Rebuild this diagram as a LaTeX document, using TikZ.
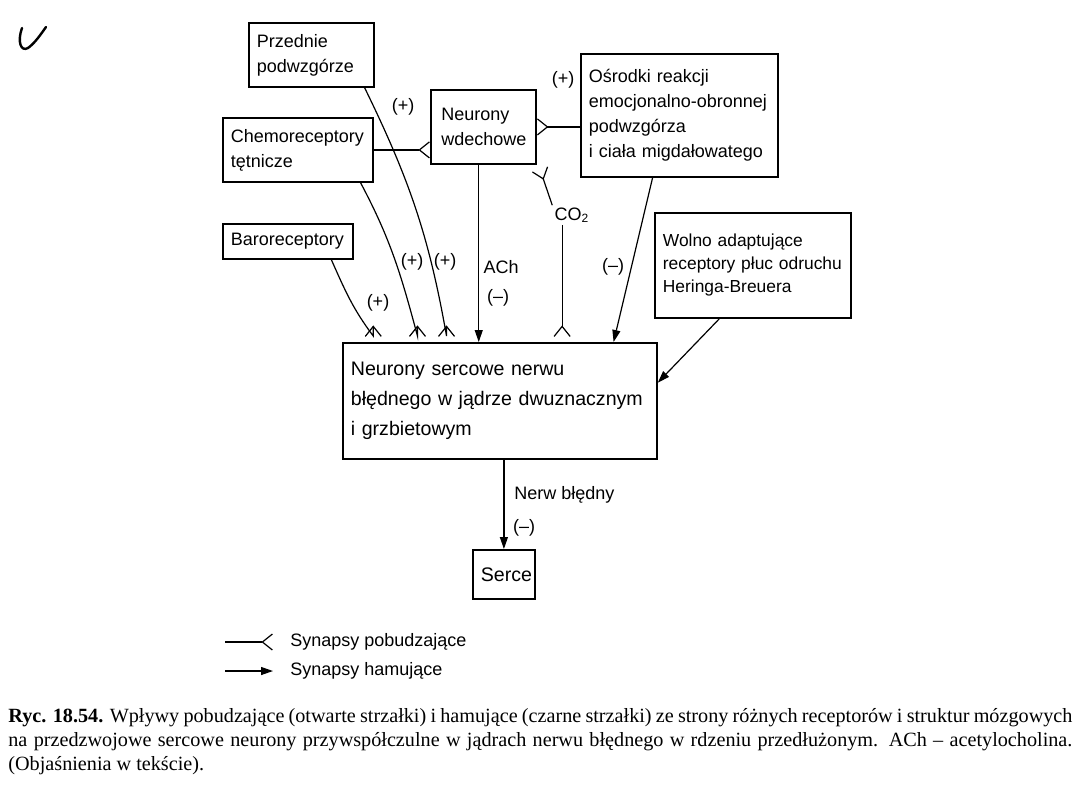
\documentclass[tikz,border=0pt]{standalone}
\usepackage{fontspec}
\setmainfont{Liberation Sans}
\newfontfamily\capfont{Liberation Serif}
\usetikzlibrary{
    calc,
    arrows.meta
}
\tikzset{
    box/.style={draw, line width=0.9pt, anchor=north west, align=left,
        inner xsep=4pt, inner ysep=1pt, font=\fontsize{9}{12.5}\selectfont},
    excit/.style={-{Straight Barb[reversed,length=5pt,width=8pt]}, line width=0.6pt},
    inhib/.style={-{Triangle[length=6pt,width=4pt]}, line width=0.6pt},
    lbl/.style={inner sep=1pt, font=\fontsize{9}{11}\selectfont}
}

\begin{document}
\begin{tikzpicture}[x=0.5pt,y=0.5pt]
\useasboundingbox (0,0) rectangle (1080,-810);

% pen mark
\draw[line width=1.2pt, line cap=round] (22,-28) .. controls (17,-42) and (21,-52) .. (28,-48)
    .. controls (35,-43) and (41,-34) .. (46,-27);

% boxes
\node[box, text width=54.5pt, minimum height=32pt] (przednie) at (248,-22) {Przednie\\podwzgórze};
\node[box, text width=67pt, minimum height=32pt] (chemo) at (222,-117) {Chemoreceptory\\tętnicze};
\node[box, text width=42pt, inner xsep=5.25pt, minimum height=37pt] (wdechowe) at (430,-89) {Neurony\\wdechowe};
\node[box, text width=90.5pt, minimum height=61.5pt] (osrodki) at (580,-53)
    {Ośrodki reakcji\\emocjonalno-obronnej\\podwzgórza\\i ciała migdałowatego};
\node[box, text width=57pt, minimum height=17.5pt] (baro) at (222,-223) {Baroreceptory};
\node[box, text width=90pt, minimum height=52.5pt, font=\fontsize{8.7}{11.5}\selectfont] (wolno) at (654,-212)
    {Wolno adaptujące\\receptory płuc odruchu\\Heringa-Breuera};
\node[box, text width=149pt, minimum height=58pt, font=\fontsize{9.8}{15}\selectfont] (sercowe) at (342,-342)
    {Neurony sercowe nerwu\\błędnego w jądrze dwuznacznym\\i grzbietowym};
\node[box, align=center, text width=23pt, minimum height=24.5pt, font=\fontsize{9.8}{12}\selectfont] (serce) at (472,-549) {Serce};

% points just above the big box
\coordinate (inBaro) at ($(sercowe.north west)!0.099!(sercowe.north east)+(0,5)$);
\coordinate (inChemo) at ($(sercowe.north west)!0.239!(sercowe.north east)+(0,5)$);
\coordinate (inPrzed) at ($(sercowe.north west)!0.331!(sercowe.north east)+(0,5)$);
\coordinate (inACh) at ($(sercowe.north west)!0.433!(sercowe.north east)$);
\coordinate (inCO) at ($(sercowe.north west)!0.697!(sercowe.north east)+(0,5)$);
\coordinate (inOsr) at ($(sercowe.north west)!0.86!(sercowe.north east)$);
\coordinate (inWolno) at ($(sercowe.north east)!0.345!(sercowe.south east)$);
\coordinate (inWdech) at ($(wdechowe.south east)+(3,-4)$);

\node[lbl] (co2) at (572,-215) {CO\textsubscript{2}};

% connectors (short straight end so the fork stands upright)
\draw[excit] ($(przednie.south west)!0.92!(przednie.south east)$) to[out=-64, in=100] ($(inPrzed)+(0,1)$) -- (inPrzed);
\draw[excit] ($(chemo.south west)!0.913!(chemo.south east)$) to[out=-62, in=105] ($(inChemo)+(0,1)$) -- (inChemo);
\draw[excit] ($(baro.south west)!0.83!(baro.south east)$) to[out=-66, in=127] ($(inBaro)+(0,1)$) -- (inBaro);
\draw[excit] (chemo.east) -- (chemo.east -| wdechowe.west);
\draw[excit] (wdechowe.east -| osrodki.west) -- (wdechowe.east);
\draw[excit] (co2.north west) -- (inWdech);
\draw[excit] (inCO |- co2.south) -- (inCO);
\draw[inhib] (inACh |- wdechowe.south) -- (inACh);
\draw[inhib] ($(osrodki.south west)!0.365!(osrodki.south east)$) -- (inOsr);
\draw[inhib] ($(wolno.south west)!0.33!(wolno.south east)$) -- (inWolno);
\draw[inhib] (serce.north |- sercowe.south) -- (serce.north);

% labels
\node[lbl] (pChemo) at (403,-107) {(+)};
\node[lbl] (pOsr) at (563,-80) {(+)};
\node[lbl] (pChemoS) at (412,-262) {(+)};
\node[lbl] (pPrzed) at (445,-262) {(+)};
\node[lbl] (pBaro) at (378,-303) {(+)};
\node[lbl] (ach) at (501,-267) {ACh};
\node[lbl] (mACh) at (498,-298) {(--)};
\node[lbl] (mOsr) at (613,-267) {(--)};
\node[lbl, anchor=west] (nerw) at (512,-495) {Nerw błędny};
\node[lbl] (mNerw) at (524,-528) {(--)};

% legend
\coordinate (legA) at (225,-642);
\coordinate (legB) at (273,-642);
\coordinate (legC) at (225,-671);
\coordinate (legD) at (273,-671);
\draw[excit] (legA) -- (legB);
\draw[inhib] (legC) -- (legD);
\node[lbl, anchor=west] (legExc) at (288,-642) {Synapsy pobudzające};
\node[lbl, anchor=west] (legInh) at (288,-671) {Synapsy hamujące};

% caption
\node[anchor=north west, inner sep=0pt, text width=532pt, align=justify,
    font=\capfont\fontsize{10.1}{12}\selectfont] (caption) at (8,-708)
    {\textbf{Ryc. 18.54.} Wpływy pobudzające (otwarte strzałki) i hamujące (czarne strzałki) ze strony różnych receptorów i struktur mózgowych\linebreak
    na przedzwojowe sercowe neurony przywspółczulne w jądrach nerwu błędnego w rdzeniu przedłużonym. ACh – acetylocholina.\linebreak
    (Objaśnienia w tekście).};
\end{tikzpicture}
\end{document}
